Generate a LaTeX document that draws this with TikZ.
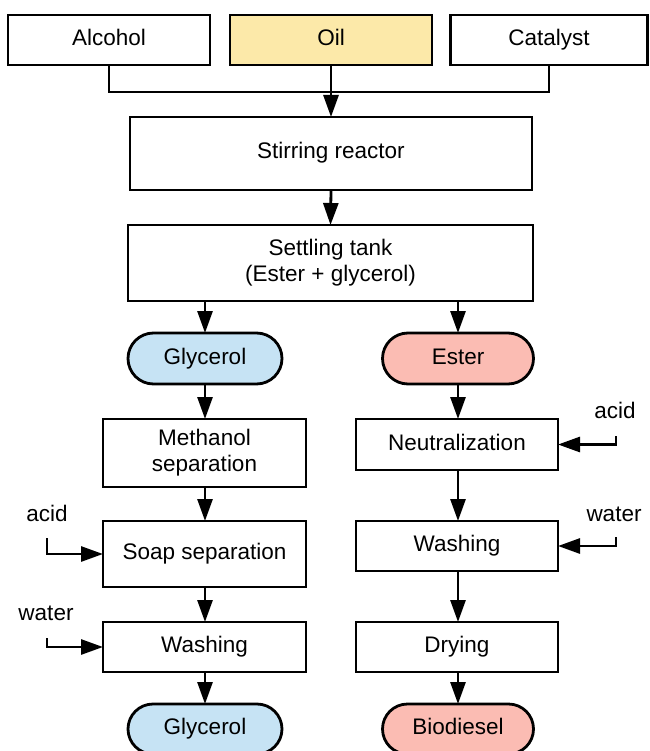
\documentclass[tikz,border=0pt]{standalone}
\usepackage{fontspec}
\setmainfont{Liberation Sans}
\usetikzlibrary{arrows.meta,shapes.misc}
\definecolor{oilc}{HTML}{FCE9A9}
\definecolor{glyc}{HTML}{C6E3F4}
\definecolor{estc}{HTML}{FBBCB3}
\begin{document}
\begin{tikzpicture}[x=1pt,y=-1pt,
  every node/.style={font=\fontsize{22.5}{26}\selectfont, inner sep=0pt, outer sep=0pt},
  one/.style={text height=16pt, text depth=5pt},
  box/.style={draw, line width=2.8pt, rectangle, align=center, fill=white},
  pill/.style={draw, line width=2.8pt, rounded rectangle, align=center, one},
  conn/.style={line width=2.8pt},
  arr/.style={line width=2.8pt, -{Triangle[length=22pt,width=15pt]}}]
\useasboundingbox (0,0) rectangle (649,751);
% top inputs
\node[box, one, minimum width=202pt, minimum height=50pt] (alcohol) at (109,40) {Alcohol};
\node[box, one, fill=oilc, minimum width=202pt, minimum height=50pt] (oil) at (331,40) {Oil};
\node[box, one, minimum width=197pt, minimum height=50pt] (catalyst) at (549,40) {Catalyst};
% main chain
\node[box, one, minimum width=402pt, minimum height=73pt] (stir) at (331,153.5) {Stirring reactor};
\node[box, minimum width=405pt, minimum height=76pt] (settle) at (330.5,263) {Settling tank\\(Ester + glycerol)};
% left column
\node[pill, fill=glyc, minimum width=154pt, minimum height=51pt] (gly1) at (205,358.5) {Glycerol};
\node[box, minimum width=203pt, minimum height=68pt] (meth) at (204.5,453) {Methanol\\separation};
\node[box, one, minimum width=203pt, minimum height=66pt] (soap) at (204.5,554) {Soap separation};
\node[box, one, minimum width=203pt, minimum height=50pt] (wash1) at (204.5,647) {Washing};
\node[pill, fill=glyc, minimum width=154pt, minimum height=50pt] (gly2) at (205,729) {Glycerol};
% right column
\node[pill, fill=estc, minimum width=151pt, minimum height=51pt] (ester) at (458,358.5) {Ester};
\node[box, one, minimum width=202pt, minimum height=51pt] (neut) at (457,444.5) {Neutralization};
\node[box, one, minimum width=202pt, minimum height=50pt] (wash2) at (457,546) {Washing};
\node[box, one, minimum width=202pt, minimum height=50pt] (dry) at (457,647) {Drying};
\node[pill, fill=estc, minimum width=151pt, minimum height=50pt] (bio) at (458,729) {Biodiesel};
% side inputs labels
\node[one] (acidR) at (615,413) {acid};
\node[one] (waterR) at (614,516) {water};
\node[one] (acidL) at (47,516) {acid};
\node[one] (waterL) at (46,615) {water};
\coordinate (acidRs) at (616,436);
\coordinate (waterRs) at (616,537);
\coordinate (acidLs) at (47,538);
\coordinate (waterLs) at (47,638);
% top merge
\coordinate (j) at (331,92);
\draw[conn] (alcohol.south) |- (j) -| (catalyst.south);
\draw[arr] (oil.south) -- (stir.north);
\draw[arr] (stir.south) -- (settle.north);
% split
\draw[arr] (gly1.north |- settle.south) -- (gly1.north);
\draw[arr] (ester.north |- settle.south) -- (ester.north);
% left chain
\draw[arr] (gly1.south) -- (gly1.south |- meth.north);
\draw[arr] (gly1.south |- meth.south) -- (gly1.south |- soap.north);
\draw[arr] (gly1.south |- soap.south) -- (gly1.south |- wash1.north);
\draw[arr] (gly1.south |- wash1.south) -- (gly2.north);
% right chain
\draw[arr] (ester.south) -- (ester.south |- neut.north);
\draw[arr] (ester.south |- neut.south) -- (ester.south |- wash2.north);
\draw[arr] (ester.south |- wash2.south) -- (ester.south |- dry.north);
\draw[arr] (ester.south |- dry.south) -- (bio.north);
% side arrows
\draw[arr] (acidRs) |- (neut.east);
\draw[arr] (waterRs) |- (wash2.east);
\draw[arr] (acidLs) |- (soap.west);
\draw[arr] (waterLs) |- (wash1.west);
\end{tikzpicture}
\end{document}
